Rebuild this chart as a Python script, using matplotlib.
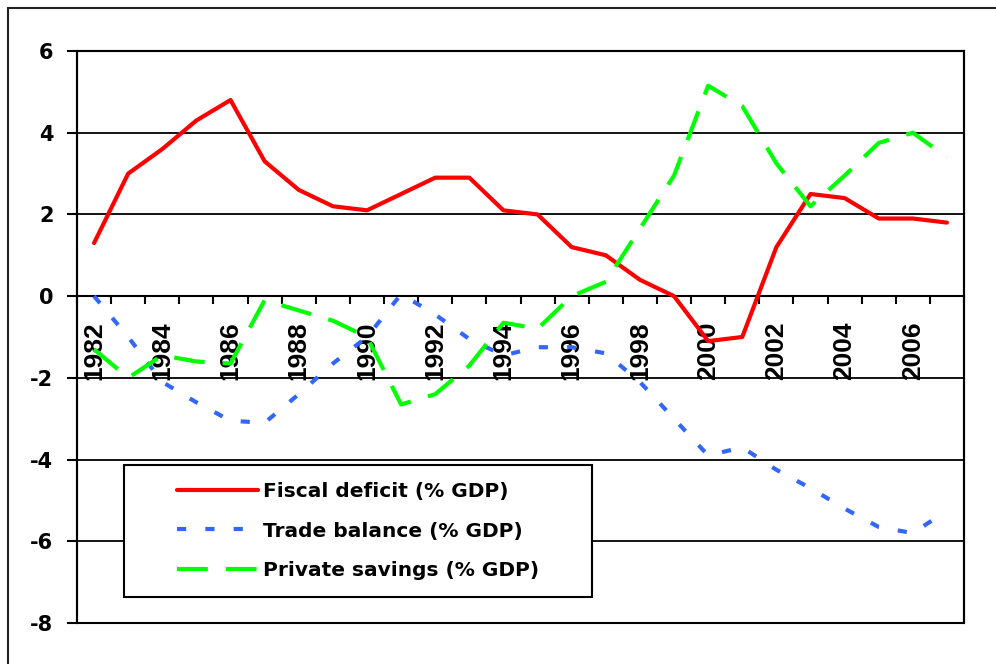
import matplotlib
matplotlib.use('Agg')
import matplotlib.pyplot as plt
import numpy as np
from matplotlib.patches import Rectangle
from matplotlib.ticker import FixedLocator, FixedFormatter, NullFormatter

plt.rcParams['axes.unicode_minus'] = False

years = list(range(1982, 2008))
fiscal = [1.3, 3.0, 3.6, 4.3, 4.8, 3.3, 2.6, 2.2, 2.1, 2.5, 2.9, 2.9, 2.1,
          2.0, 1.2, 1.0, 0.4, 0.0, -1.1, -1.0, 1.2, 2.5, 2.4, 1.9, 1.9, 1.8]
trade = [0.0, -1.0, -2.1, -2.6, -3.05, -3.1, -2.4, -1.65, -1.0, 0.05, -0.45,
         -1.05, -1.45, -1.25, -1.25, -1.4, -2.1, -3.0, -3.9, -3.7, -4.25,
         -4.7, -5.2, -5.65, -5.8, -5.25]
savings = [-1.3, -2.0, -1.45, -1.6, -1.65, -0.1, -0.35, -0.6, -1.0, -2.65,
           -2.4, -1.7, -0.65, -0.8, 0.0, 0.35, 1.65, 2.95, 5.15, 4.65, 3.25,
           2.2, 2.95, 3.75, 4.0, 3.4]
series_names = ['Fiscal deficit (% GDP)', 'Trade balance (% GDP)',
                'Private savings (% GDP)']
year_labels = [str(y) for y in years if y % 2 == 0]
y_ticks = list(range(-8, 7, 2))

fig = plt.figure(figsize=(9.96, 6.64), dpi=100)
ax = fig.add_axes([77 / 996, 1 - 623 / 664, (964 - 77) / 996, (623 - 51) / 664])

x = np.arange(len(years)) + 0.5
ax.plot(x, fiscal, color='#FF0000', lw=3, solid_capstyle='round',
        solid_joinstyle='round', label=series_names[0], zorder=3)
ax.plot(x, trade, color='#3366FF', lw=3, dashes=(2.2, 4.6),
        dash_capstyle='butt', label=series_names[1], zorder=3)
ax.plot(x, savings, color='#00FF00', lw=3, dashes=(7.4, 4.3),
        dash_capstyle='butt', label=series_names[2], zorder=3)

ax.set_xlim(0, len(years))
ax.set_ylim(-8, 6)
ax.set_yticks(y_ticks)
ax.grid(axis='y', color='black', lw=1.3)
ax.set_axisbelow(True)

for s in ['top', 'right', 'left', 'bottom']:
    ax.spines[s].set_linewidth(1.5)
ax.spines['bottom'].set_position(('data', 0))
ax.add_patch(Rectangle((0, 0), 1, 1, transform=ax.transAxes, fill=False,
                       edgecolor='black', lw=1.5, clip_on=False, zorder=2.5))

ax.xaxis.set_major_locator(FixedLocator(range(len(years) + 1)))
ax.xaxis.set_major_formatter(NullFormatter())
ax.xaxis.set_minor_locator(FixedLocator(x[::2]))
ax.xaxis.set_minor_formatter(FixedFormatter(year_labels))
ax.tick_params(axis='x', which='major', direction='out', length=6, width=1.5)
ax.tick_params(axis='x', which='minor', length=0, pad=18, labelsize=19,
               labelrotation=90)
for lbl in ax.get_xticklabels(minor=True):
    lbl.set_fontfamily('Liberation Sans')
    lbl.set_fontweight('bold')

ax.tick_params(axis='y', direction='out', length=7, width=1.5, pad=10,
               labelsize=15)
for lbl in ax.get_yticklabels():
    lbl.set_fontweight('bold')
    lbl.set_fontfamily('DejaVu Sans')

# legend box
lx0, lx1, ly0, ly1 = 124, 592, 465, 597
ax.add_patch(Rectangle(((lx0 - 77) / 887, (623 - ly1) / 572),
                       (lx1 - lx0) / 887, (ly1 - ly0) / 572,
                       transform=ax.transAxes, facecolor='white',
                       edgecolor='black', lw=1.5, zorder=4))
leg = ax.legend(loc='center', bbox_to_anchor=(((lx0 + lx1) / 2 - 77) / 887,
                                              (623 - (ly0 + ly1) / 2) / 572),
                frameon=False,
                prop={'family': 'DejaVu Sans', 'weight': 'bold', 'size': 14.5},
                handlelength=4.0, handletextpad=0.25, labelspacing=1.0)
leg.set_zorder(5)

fig.add_artist(Rectangle((8 / 996, -0.05), 1.1, 1 - 8 / 664 + 0.05,
                         transform=fig.transFigure, fill=False,
                         edgecolor='#222222', lw=1.5))

fig.savefig('out.png', dpi=100)
